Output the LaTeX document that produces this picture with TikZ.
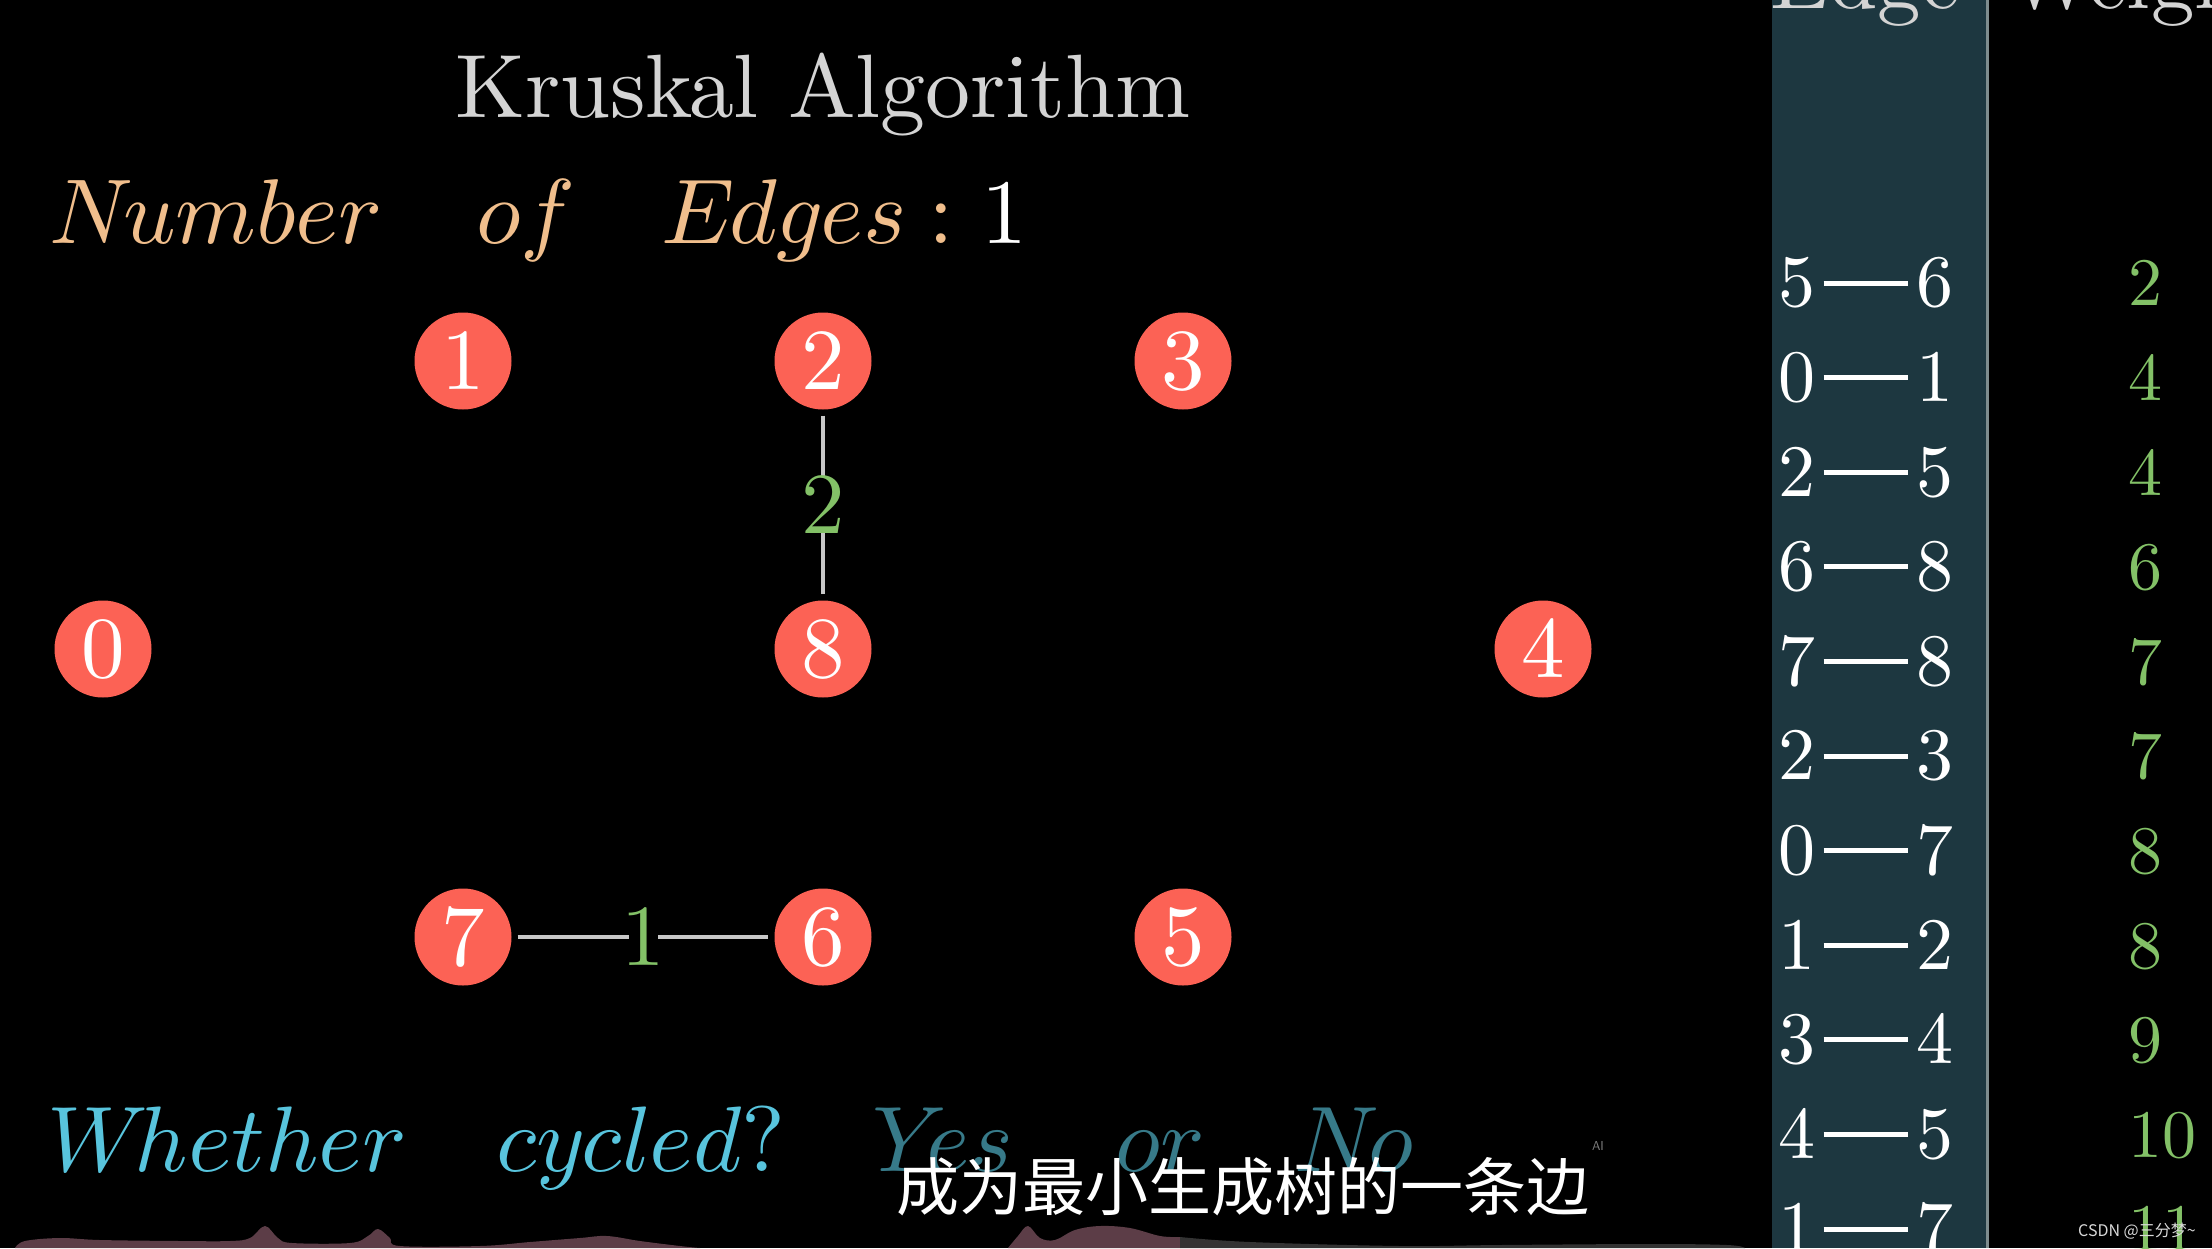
\RequirePackage{fix-cm}
\documentclass[tikz,border=0pt]{standalone}
\usepackage[no-math]{fontspec}
\newfontfamily\cjk{Noto Sans CJK SC}
\DeclareFontFamily{OT1}{cmrten}{}
\DeclareFontShape{OT1}{cmrten}{m}{n}{<-> cmr10}{}
\DeclareFontFamily{OML}{cmmten}{\skewchar\font127}
\DeclareFontShape{OML}{cmmten}{m}{it}{<-> cmmi10}{}
\newcommand{\rmten}{\fontencoding{OT1}\fontfamily{cmrten}\fontseries{m}\fontshape{n}\selectfont}
\newcommand{\mten}{\fontencoding{OML}\fontfamily{cmmten}\fontseries{m}\fontshape{it}\selectfont}
\definecolor{vred}{HTML}{FC6255}
\definecolor{wgreen}{HTML}{83C167}
\definecolor{numtan}{HTML}{F0BE8C}
\definecolor{qblue}{HTML}{58C4DD}
\definecolor{panelteal}{RGB}{29,55,64}
\definecolor{wavemaroon}{HTML}{5C3D47}
\definecolor{wavegray}{HTML}{333333}
\definecolor{titlegray}{HTML}{D4D4D4}
\definecolor{linegray}{HTML}{C8C8C8}
\definecolor{sepgray}{HTML}{7E8C8E}
\tikzset{
  vertex/.style={circle, fill=vred, minimum size=97pt, inner sep=0pt, text=white, font=\fontsize{87}{87}\rmten},
  graphedge/.style={draw=linegray, line width=3.5pt, shorten >=6pt, shorten <=6pt},
  wlabel/.style={fill=black, inner sep=0pt, text=wgreen, font=\fontsize{87}{87}\rmten},
  tdigit/.style={inner sep=0pt, text=white, font=\fontsize{74}{74}\rmten},
  tdash/.style={draw=white, line width=5pt, shorten >=8pt, shorten <=8pt},
  wdigit/.style={inner sep=0pt, anchor=west, text=wgreen, font=\fontsize{68}{68}\rmten},
  headtext/.style={anchor=base west, inner sep=0pt, text=titlegray, font=\fontsize{87}{87}\rmten},
  numtext/.style={anchor=base west, inner sep=0pt, text=numtan, font=\fontsize{92}{92}\mten},
  qtext/.style={anchor=base west, inner sep=0pt, text=qblue, font=\fontsize{93}{93}\mten},
  qfaded/.style={qtext, text=qblue!62!black},
}
\begin{document}
\begin{tikzpicture}[x=1pt,y=-1pt]
\fill[black] (0,0) rectangle (2212,1248);
\useasboundingbox (0,0) rectangle (2212,1248);
\clip (0,0) rectangle (2212,1248);

% table panel
\fill[panelteal] (1772,0) rectangle (1986,1248);
\draw[sepgray, line width=3pt] (1987.5,0) -- (1987.5,1248);
\node[headtext] (hedge) at (1770,8) {Edge};
\node[headtext] (hweight) at (2006,8) {Weight};
\foreach \a/\b/\w [count=\i from 0] in {5/6/2,0/1/4,2/5/4,6/8/6,7/8/7,2/3/7,0/7/8,1/2/8,3/4/9,4/5/10,1/7/11}{
  \node[tdigit] (l\i) at (1797,283+94.6*\i) {\a};
  \node[tdigit] (r\i) at (1935,283+94.6*\i) {\b};
  \draw[tdash] (l\i) -- (r\i);
  \node[wdigit] (w\i) at (2128,284+94.6*\i) {\w};
}

% title
\node[headtext, font=\fontsize{90}{90}\rmten] (title) at (455,117) {Kruskal Algorithm};

% number of edges
\node[numtext] (tnum) at (49,243) {Number};
\node[numtext] (tof) at (476,243) {of};
\node[numtext] (tedges) at (661,243) {Edges};
\node[numtext, font=\fontsize{92}{92}\rmten] (tcolon) at (928,243) {:};
\node[numtext, text=white, font=\fontsize{92}{92}\rmten] (tone) at (981,243) {1};

% graph vertices
\node[vertex] (n0) at (103,649) {0};
\node[vertex] (n1) at (463,361) {1};
\node[vertex] (n2) at (823,361) {2};
\node[vertex] (n3) at (1183,361) {3};
\node[vertex] (n4) at (1543,649) {4};
\node[vertex] (n5) at (1183,937) {5};
\node[vertex] (n6) at (823,937) {6};
\node[vertex] (n7) at (463,937) {7};
\node[vertex] (n8) at (823,649) {8};

% chosen edges
\draw[graphedge] (n2) -- node[wlabel] (lab28) {2} (n8);
\draw[graphedge] (n7) -- node[wlabel] (lab76) {\makebox[29pt]{1}} (n6);

% question line
\node[qtext] (qw) at (47,1171) {Whether};
\node[qtext] (qc) at (496,1171) {cycled{\rmten?}};
\node[qfaded] (qy) at (872,1171) {Yes};
\node[qfaded] (qo) at (1115,1171) {or};
\node[qfaded] (qn) at (1294,1171) {No};

% bottom waveform
\fill[wavemaroon] plot[smooth, tension=0.6] coordinates {(15,1248) (25,1241) (60,1238) (100,1240) (180,1241) (230,1241) (250,1238) (265,1226) (278,1238) (292,1243) (350,1243) (368,1236) (378,1229) (390,1238) (400,1246) (480,1246) (530,1242) (580,1238) (607,1236) (640,1241) (680,1246) (700,1248)} -- cycle;
\fill[wavemaroon] plot[smooth, tension=0.6] coordinates {(1008,1248) (1018,1236) (1028,1226) (1040,1238) (1055,1240) (1075,1230) (1100,1226) (1130,1228) (1160,1236) (1180,1237)} -- (1180,1248) -- cycle;
\fill[wavegray] plot[smooth, tension=0.6] coordinates {(1180,1237) (1250,1242) (1400,1246) (1500,1245) (1650,1244) (1727,1245) (1745,1248)} -- (1180,1248) -- cycle;

% subtitle
\node[anchor=base, inner sep=0pt, text=white, font=\cjk\fontsize{63}{63}\selectfont] (sub) at (1243,1210) {成为最小生成树的一条边};
\node[inner sep=0pt, text=gray, font=\sffamily\fontsize{13}{13}\selectfont] (ai) at (1598,1146) {AI};
\node[anchor=base west, inner sep=0pt, text=white!85!black, font=\cjk\fontsize{16}{16}\selectfont] (wm) at (2078,1236) {CSDN @三分梦\textasciitilde};
\end{tikzpicture}
\end{document}
